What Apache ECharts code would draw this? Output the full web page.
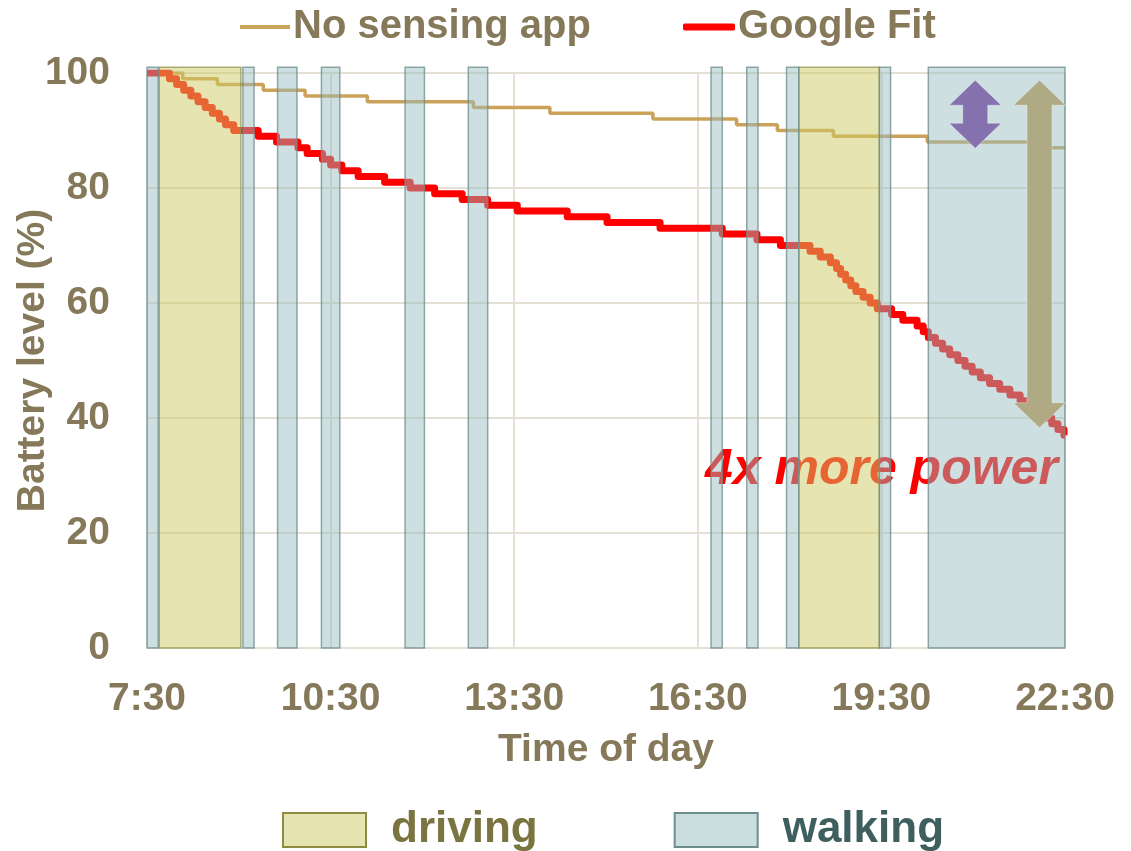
<!DOCTYPE html>
<html><head><meta charset="utf-8">
<script src="https://cdn.jsdelivr.net/npm/echarts@6/dist/echarts.min.js"></script>
<style>html,body{margin:0;padding:0;background:#fff}#c{width:1131px;height:851px}</style>
</head><body><div id="c"></div>
<script>
// ---- data ----
const xTickLabels = ['7:30', '10:30', '13:30', '16:30', '19:30', '22:30'];
const yTickValues = [0, 20, 40, 60, 80, 100];

const noAppTimes  = ['7:30','8:05','8:39','9:24','10:05','11:06','12:50','14:05','15:46','17:08','17:48','18:43','20:15','22:05','22:30'];
const noAppLevels = [100, 99, 98, 97, 96, 95, 94, 93, 92, 91, 90, 89, 88, 87, 87];

const fitTimes = ['7:30','7:52','7:59','8:06','8:13','8:20','8:27','8:34','8:41','8:47','8:55',
  '9:19','9:37','9:58','10:07','10:22','10:30','10:41','10:57','11:23','11:48','12:12','12:39','13:04','13:33',
  '14:22','15:01','15:53','16:54','17:28','17:51',
  '18:20','18:30','18:40','18:46','18:50','18:55','19:00','19:05','19:12','19:19','19:26',
  '19:40','19:51','20:05','20:11','20:16',
  '20:23','20:30','20:37','20:45','20:52','20:59','21:07','21:16','21:26','21:36','21:46','21:54','22:02','22:09','22:17','22:23','22:29','22:30'];
const fitLevels = [100, 99, 98, 97, 96, 95, 94, 93, 92, 91, 90,
  89, 88, 87, 86, 85, 84, 83, 82, 81, 80, 79, 78, 77, 76,
  75, 74, 73, 72, 71, 70,
  69, 68, 67, 66, 65, 64, 63, 62, 61, 60, 59,
  58, 57, 56, 55, 54,
  53, 52, 51, 50, 49, 48, 47, 46, 45, 44, 43, 42, 41, 40, 39, 38, 37, 37];

const walkingStarts = ['7:30','9:04','9:38','10:21','11:43','12:45','16:43','17:18','17:57','19:28','20:16'];
const walkingEnds   = ['7:41','9:15','9:57','10:39','12:02','13:04','16:54','17:29','18:09','19:39','22:30'];
const drivingStarts = ['7:42','18:09'];
const drivingEnds   = ['9:02','19:28'];

const arrowTimes   = ['21:02', '22:05'];
const arrowTops    = [98.75, 98.75];
const arrowBottoms = [86.9, 38.3];
const arrowColors  = ['#8471ae', '#b0aa84'];

const noteText = '4x more power';
const noteTime = '22:23';
const noteLevel = 31;

// ---- helpers ----
const BASE = 7 * 60 + 30;
function toMin(s) { const p = s.split(':'); return (+p[0]) * 60 + (+p[1]) - BASE; }
function fmt(v) { const t = v + BASE; return Math.floor(t / 60) + ':' + String(t % 60).padStart(2, '0'); }

const TXT = '#85795a';
const FONT = 'Liberation Sans';
const SHADE_TOP = 101;
const TAN = '#cba259';
const RED = '#ff0000';

const noAppData = noAppTimes.map((t, i) => [toMin(t), noAppLevels[i]]);
const fitData = fitTimes.map((t, i) => [toMin(t), fitLevels[i]]);
const walkData = walkingStarts.map((t, i) => [toMin(t), toMin(walkingEnds[i])]);
const driveData = drivingStarts.map((t, i) => [toMin(t), toMin(drivingEnds[i])]);
const arrowData = arrowTimes.map((t, i) => [toMin(t), arrowTops[i], arrowBottoms[i], i]);

function shadeRenderer(fill, stroke) {
  return function (params, api) {
    const p0 = api.coord([api.value(0), SHADE_TOP]);
    const p1 = api.coord([api.value(1), 0]);
    return { type: 'rect', shape: { x: p0[0], y: p0[1], width: p1[0] - p0[0], height: p1[1] - p0[1] },
      style: { fill: fill, stroke: stroke, lineWidth: 1.5 } };
  };
}

const topLegendText = { color: TXT, fontSize: 40, fontWeight: 'bold', fontFamily: FONT, padding: [0, 0, 0, -2] };

const chart = echarts.init(document.getElementById('c'), null, { renderer: 'canvas' });
chart.setOption({
  animation: false,
  backgroundColor: '#fff',
  grid: { left: 147, right: 66, top: 73, bottom: 203, outerBoundsMode: 'none', containLabel: false },
  legend: [{
    data: [{ name: 'No sensing app', icon: 'rect', itemStyle: { color: TAN } }],
    left: 235, top: 2, itemWidth: 50, itemHeight: 4,
    selectedMode: false, textStyle: topLegendText
  }, {
    data: [{ name: 'Google Fit', icon: 'roundRect', itemStyle: { color: RED } }],
    left: 678, top: 2, itemWidth: 52, itemHeight: 7,
    selectedMode: false, textStyle: topLegendText
  }, {
    data: [
      { name: 'driving', icon: 'rect', itemStyle: { color: '#e6e4b1', borderColor: '#8f8b40', borderWidth: 2 },
        textStyle: { color: '#7a7441' } },
      { name: 'walking', icon: 'rect', itemStyle: { color: '#cbdedf', borderColor: '#6e8d8d', borderWidth: 2 },
        textStyle: { color: '#3f5f5f' } }
    ],
    left: 277, top: 803, itemWidth: 83, itemHeight: 34, itemGap: 136,
    selectedMode: false,
    textStyle: { fontSize: 44, fontWeight: 'bold', fontFamily: FONT, padding: [0, 0, 0, 20] }
  }],
  xAxis: {
    type: 'value', min: 0, max: 900, interval: 180,
    name: 'Time of day', nameLocation: 'middle', nameGap: 83,
    nameTextStyle: { color: TXT, fontSize: 39, fontWeight: 'bold', fontFamily: FONT },
    axisLine: { show: false }, axisTick: { show: false },
    axisLabel: { color: TXT, fontSize: 39, fontWeight: 'bold', fontFamily: FONT, margin: 32,
      formatter: (v, i) => xTickLabels[i] !== undefined ? xTickLabels[i] : fmt(v) },
    splitLine: { show: true, lineStyle: { color: '#e4e1d4', width: 2 } }
  },
  yAxis: {
    type: 'value', min: 0, max: 100, interval: 20,
    name: 'Battery level (%)', nameLocation: 'middle', nameGap: 94, nameRotate: 90, nameMoveOverlap: false,
    nameTextStyle: { color: TXT, fontSize: 39, fontWeight: 'bold', fontFamily: FONT },
    axisLine: { show: false }, axisTick: { show: false },
    axisLabel: { color: TXT, fontSize: 39, fontWeight: 'bold', fontFamily: FONT, margin: 37,
      formatter: (v) => yTickValues.indexOf(v) >= 0 ? String(v) : '' },
    splitLine: { show: true, lineStyle: { color: '#e4e1d4', width: 2 } }
  },
  series: [
    { type: 'custom', z: 1, silent: true, clip: false,
      data: [[toMin(noteTime), noteLevel]],
      renderItem: (params, api) => {
        const p = api.coord([api.value(0), api.value(1)]);
        return { type: 'text', style: { text: noteText, x: p[0], y: p[1], align: 'right', verticalAlign: 'middle',
          fill: RED, font: 'italic bold 50px "Liberation Sans"' } };
      } },
    { name: 'No sensing app', type: 'line', z: 2, step: 'end', symbol: 'none', data: noAppData,
      itemStyle: { color: TAN }, lineStyle: { color: TAN, width: 3.5 } },
    { name: 'Google Fit', type: 'line', z: 3, step: 'end', symbol: 'none', data: fitData,
      itemStyle: { color: RED }, lineStyle: { color: RED, width: 7, join: 'round' } },
    { name: 'driving', type: 'custom', z: 4, clip: false, silent: true, data: driveData,
      encode: { x: [0, 1] },
      itemStyle: { color: '#e6e4b1', borderColor: '#8f8b40' },
      renderItem: shadeRenderer('rgba(206,202,100,0.5)', 'rgba(150,148,80,0.75)') },
    { name: 'walking', type: 'custom', z: 4, clip: false, silent: true, data: walkData,
      encode: { x: [0, 1] },
      itemStyle: { color: '#cbdedf', borderColor: '#6e8d8d' },
      renderItem: shadeRenderer('rgba(150,188,190,0.48)', 'rgba(110,140,140,0.75)') },
    { type: 'custom', z: 6, clip: false, silent: true, data: arrowData,
      encode: { x: 0, y: [1, 2] },
      renderItem: (params, api) => {
        const t = api.coord([api.value(0), api.value(1)]);
        const b = api.coord([api.value(0), api.value(2)]);
        const cx = t[0], yt = t[1], yb = b[1];
        const hw = 26, sw = 12.5, hl = 25;
        const pts = [[cx, yt], [cx + hw, yt + hl], [cx + sw, yt + hl], [cx + sw, yb - hl], [cx + hw, yb - hl],
          [cx, yb], [cx - hw, yb - hl], [cx - sw, yb - hl], [cx - sw, yt + hl], [cx - hw, yt + hl]];
        return { type: 'polygon', shape: { points: pts },
          style: { fill: arrowColors[api.value(3)], stroke: 'rgba(255,255,255,0.35)', lineWidth: 1 } };
      } }
  ]
});
</script>
</body></html>
